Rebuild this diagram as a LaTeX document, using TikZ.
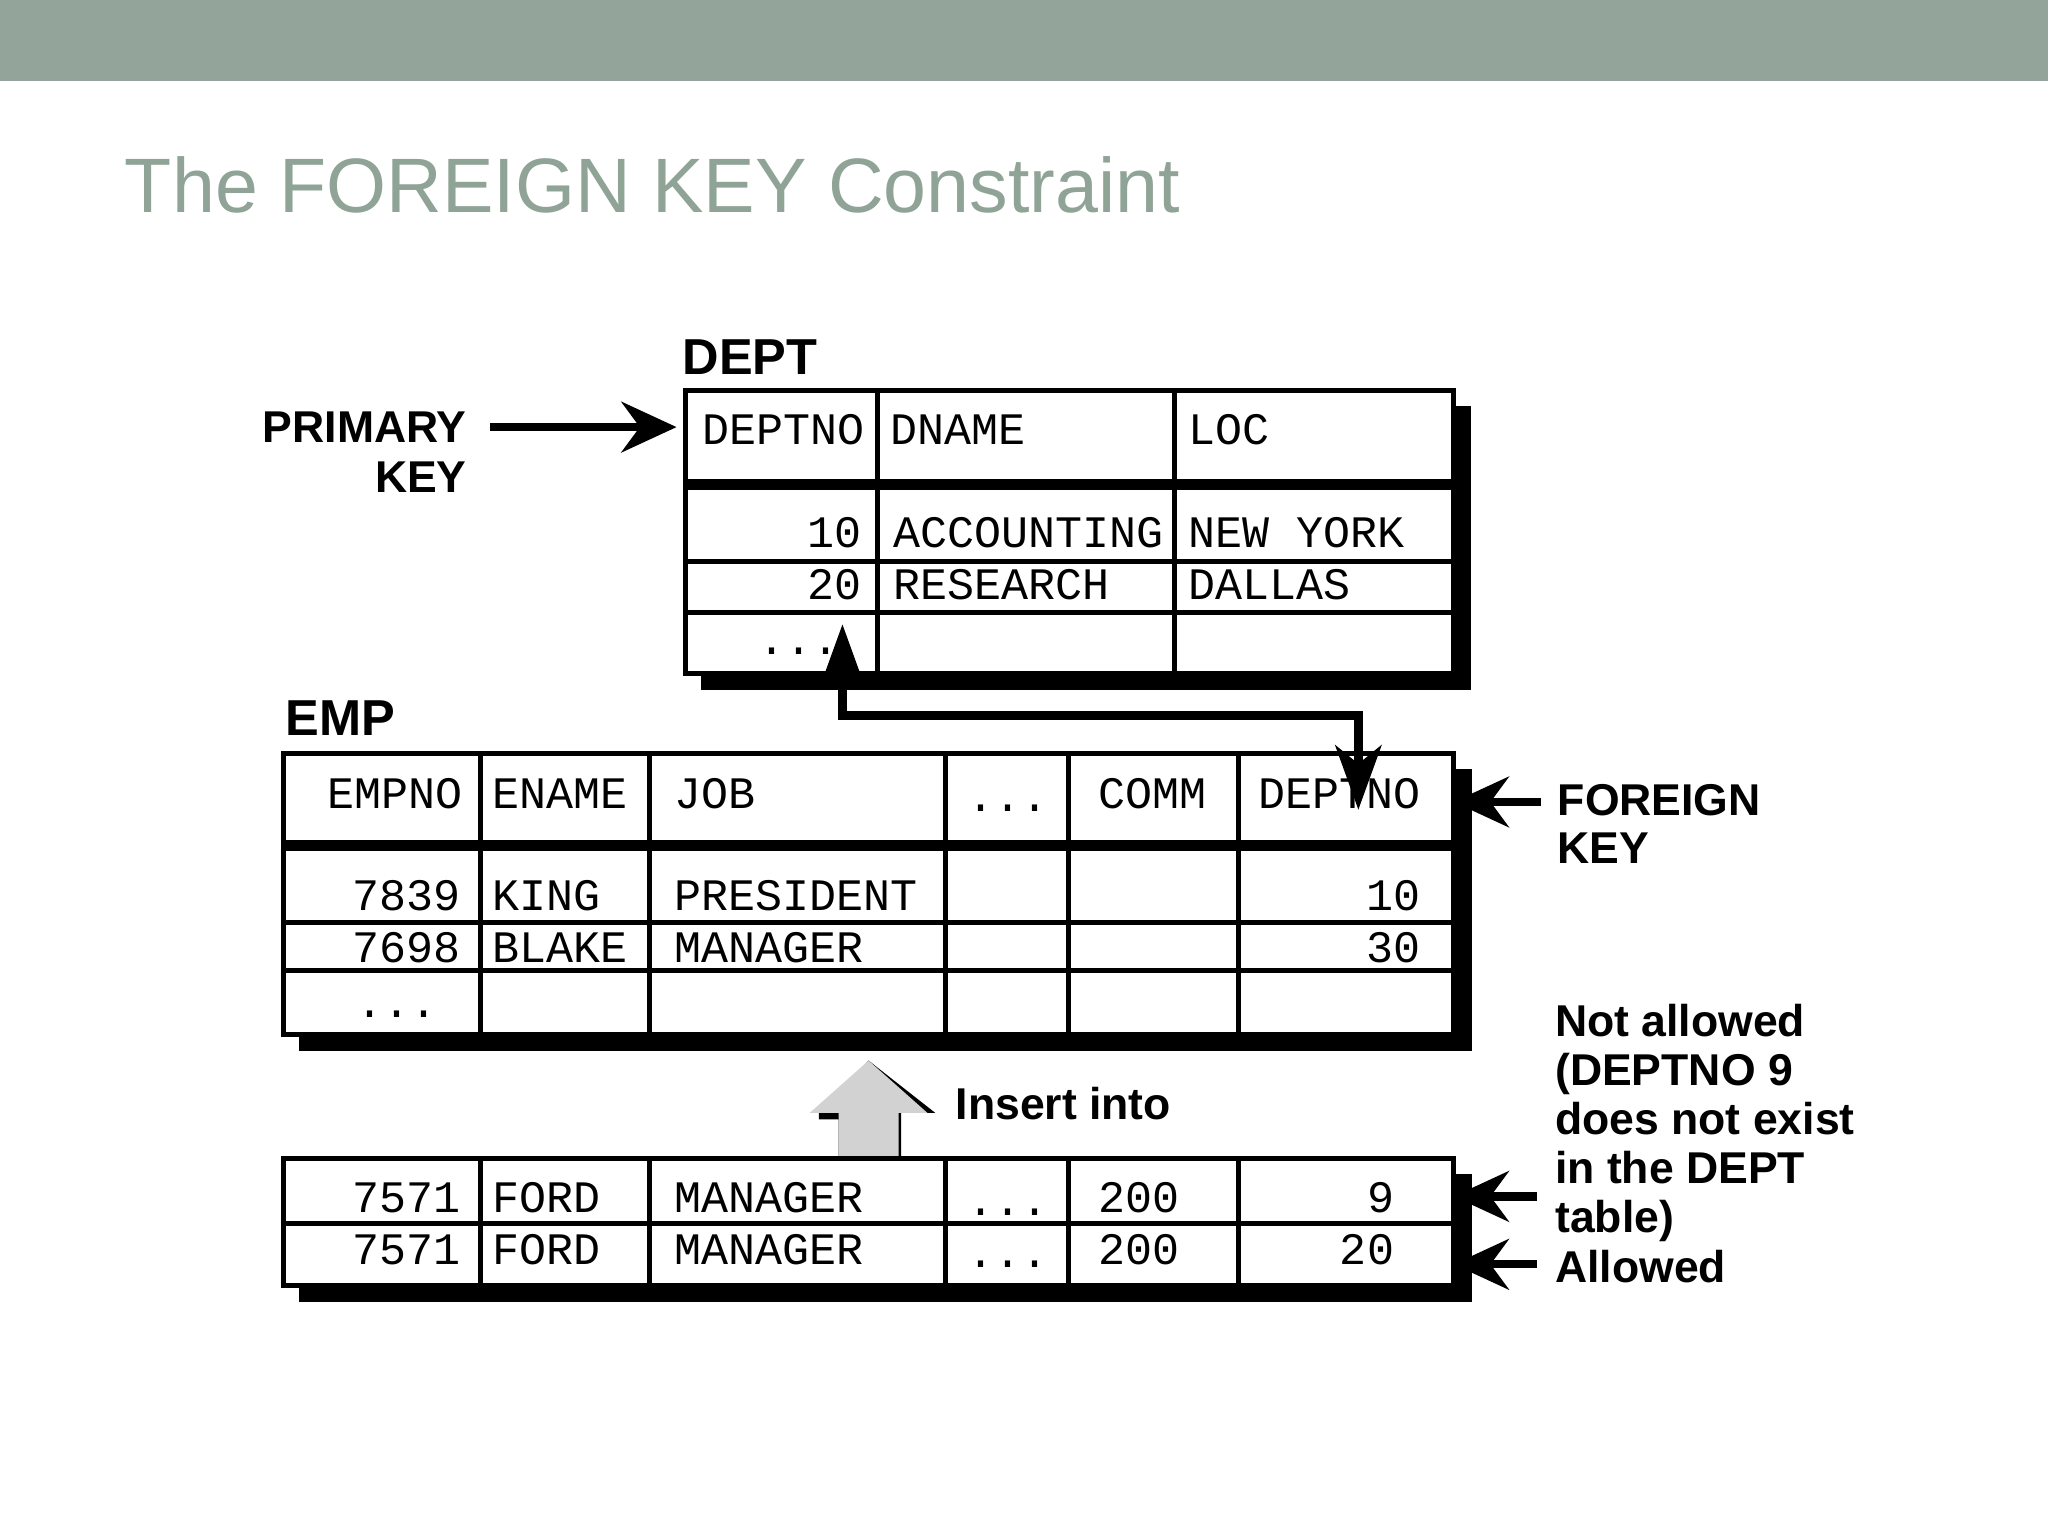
\documentclass[tikz,border=0pt]{standalone}
\usepackage{fontspec}
\setmainfont{Liberation Sans}
\newfontfamily\monob{Liberation Mono}[BoldFont=*]
\usetikzlibrary{arrows.meta}
\definecolor{band}{HTML}{93A59A}
\definecolor{ttl}{HTML}{8FA396}
\tikzset{
 mono/.style={font=\monob\bfseries\fontsize{9.8}{11}\selectfont,inner sep=0pt},
 lbl/.style={font=\bfseries\fontsize{9.7}{11}\selectfont,inner sep=0pt},
 grid/.style={line width=1.1pt},
 sep/.style={line width=2.4pt},
 shadow/.style={fill=black},
 bigarrow/.style={line width=1.8pt,-{Stealth[length=12pt,width=11pt,inset=4pt]}},
}
\begin{document}
\begin{tikzpicture}[x=0.01cm,y=-0.01cm]
\useasboundingbox (0,0) rectangle (1568,1176);
\fill[band] (0,0) rectangle (1568,62);
\node[anchor=base west,inner sep=0pt,text=ttl,font=\fontsize{16.8}{20}\selectfont] (title) at (95,163) {The FOREIGN KEY Constraint};

% DEPT
\node[lbl,anchor=base west,font=\bfseries\fontsize{11}{12}\selectfont] (deptl) at (522,287) {DEPT};
\fill[shadow] (1113,311) rectangle (1126,528);
\fill[shadow] (537,516) rectangle (1126,528);
\draw[grid] (525,299) rectangle (1113,516);
\draw[sep] (525,371) -- (1113,371);
\draw[grid] (525,430) -- (1113,430) (525,469) -- (1113,469);
\draw[grid] (672,299) -- (672,516) (899,299) -- (899,516);
\node[mono,anchor=mid west] (d1) at (537,331) {DEPTNO};
\node[mono,anchor=mid west] (d2) at (681,331) {DNAME};
\node[mono,anchor=mid west] (d3) at (909,331) {LOC};
\node[mono,anchor=mid east] (r11) at (660,410) {10};
\node[mono,anchor=mid west] (r12) at (683,410) {ACCOUNTING};
\node[mono,anchor=mid west] (r13) at (909,410) {NEW YORK};
\node[mono,anchor=mid east] (r21) at (660,450) {20};
\node[mono,anchor=mid west] (r22) at (683,450) {RESEARCH};
\node[mono,anchor=mid west] (r23) at (909,450) {DALLAS};
\node[mono,anchor=mid west] (r31) at (580,492) {...};

\node[lbl,anchor=base east] (pk1) at (358,339) {PRIMARY};
\node[lbl,anchor=base east] (pk2) at (358,377) {KEY};
\coordinate (pka) at (375,327); \coordinate (pkb) at (518,327);
\draw[bigarrow] (pka) -- (pkb);

% EMP
\node[lbl,anchor=base west,font=\bfseries\fontsize{11}{12}\selectfont] (empl) at (218,563) {EMP};
\fill[shadow] (1113,589) rectangle (1127,805);
\fill[shadow] (229,792) rectangle (1127,805);
\draw[grid] (217,577) rectangle (1113,792);
\draw[sep] (217,647) -- (1113,647);
\draw[grid] (217,706) -- (1113,706) (217,743) -- (1113,743);
\foreach \x in {368,497,724,818,948} \draw[grid] (\x,577) -- (\x,792);
\node[mono,anchor=mid west] (e1) at (250,610) {EMPNO};
\node[mono,anchor=mid west] (e2) at (376,610) {ENAME};
\node[mono,anchor=mid west] (e3) at (516,610) {JOB};
\node[mono,anchor=mid west] (e4) at (740,612) {...};
\node[mono,anchor=mid west] (e5) at (840,610) {COMM};
\node[mono,anchor=mid west] (e6) at (963,610) {DEPTNO};
\node[mono,anchor=mid east] (k1) at (353,688) {7839};
\node[mono,anchor=mid west] (k2) at (376,688) {KING};
\node[mono,anchor=mid west] (k3) at (516,688) {PRESIDENT};
\node[mono,anchor=mid east] (k6) at (1088,688) {10};
\node[mono,anchor=mid east] (b1) at (353,728) {7698};
\node[mono,anchor=mid west] (b2) at (376,728) {BLAKE};
\node[mono,anchor=mid west] (b3) at (516,728) {MANAGER};
\node[mono,anchor=mid east] (b6) at (1088,728) {30};
\node[mono,anchor=mid west] (dots) at (272,770) {...};

% FK connector
\coordinate (fkA) at (645,478); \coordinate (fkB) at (1040,620);
\draw[line width=2pt,{Stealth[length=14pt,width=10pt,inset=4pt]}-{Stealth[length=14pt,width=10pt,inset=4pt]}] (fkA) -- (645,548) -- (1040,548) -- (fkB);

\node[lbl,anchor=base west] (fk1) at (1192,624) {FOREIGN};
\node[lbl,anchor=base west] (fk2) at (1192,661) {KEY};
\coordinate (fka) at (1180,614); \coordinate (fkb) at (1113,614);
\draw[bigarrow] (fka) -- (fkb);

% insert arrow
\fill[black] (627,852) -- (665,812) -- (716,852) -- (690,852) -- (690,887) -- (642,887) -- (642,857) -- (627,857) -- cycle;
\fill[gray!35] (620,852) -- (665,812) -- (710,852) -- (688,852) -- (688,887) -- (642,887) -- (642,852) -- cycle;
\node[lbl,anchor=base west] (ins) at (731,857) {Insert into};

% insert table
\fill[shadow] (1113,899) rectangle (1127,997);
\fill[shadow] (229,984) rectangle (1127,997);
\draw[grid] (217,887) rectangle (1113,984);
\draw[grid] (217,937) -- (1113,937);
\foreach \x in {368,497,724,818,948} \draw[grid] (\x,887) -- (\x,984);
\foreach \y/\v [count=\i] in {919/9,959/20}{
 \node[mono,anchor=mid east] (f1\i) at (353,\y) {7571};
 \node[mono,anchor=mid west] (f2\i) at (376,\y) {FORD};
 \node[mono,anchor=mid west] (f3\i) at (516,\y) {MANAGER};
 \node[mono,anchor=mid west] (f4\i) at (740,\y+2) {...};
 \node[mono,anchor=mid west] (f5\i) at (840,\y) {200};
 \node[mono,anchor=mid east] (f6\i) at (1068,\y) {\v};
}
\coordinate (na) at (1177,916); \coordinate (nb) at (1113,916);
\coordinate (aa) at (1177,968); \coordinate (ab) at (1113,968);
\draw[bigarrow] (na) -- (nb);
\draw[bigarrow] (aa) -- (ab);
\node[lbl,anchor=north west,align=left,font=\bfseries\fontsize{9.7}{10.7}\selectfont] (note) at (1190,768) {Not allowed\\(DEPTNO 9\\does not exist\\in the DEPT\\table)\\Allowed};
\end{tikzpicture}
\end{document}
